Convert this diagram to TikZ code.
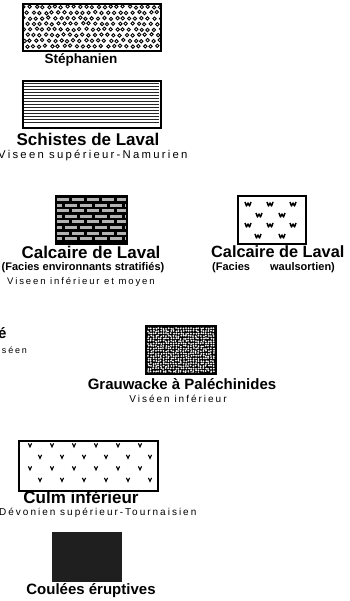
\documentclass[tikz,border=0pt]{standalone}
\usepackage{fontspec}
\setmainfont{Liberation Sans}
\newfontfamily\subfont[LetterSpace=20]{Liberation Sans}
\usetikzlibrary{positioning}

\tikzset{
  legbox/.style={draw=black,line width=2.4pt,inner sep=0pt,anchor=north west},
  ttl/.style={font=\fontsize{#1}{#1}\selectfont\bfseries,inner sep=0pt},
  sub/.style={font=\subfont\fontsize{#1}{#1}\selectfont,inner sep=0pt},
  wmark/.style={line width=1.5pt,line join=round},
  vmark/.style={line width=1.1pt}
}

\begin{document}
\begin{tikzpicture}[x=1pt,y=-1pt]
\useasboundingbox (0,0) rectangle (349,601);

% Stephanien: conglomerate
\begin{scope}
  \clip (22,3) rectangle (160,50);
  \pgfmathsetseed{4}
  \foreach \r in {0,...,7}
    \foreach \c in {0,...,22}
      \draw[line width=0.9pt] ({24+\c*6.2+mod(\r,2)*3.1+0.8*rand},{7+\r*5.6+0.7*rand}) circle (1.7);
\end{scope}
\node[legbox,minimum width=138pt,minimum height=47pt] (steph) at (22,3) {};
\node[ttl=13.5] (stephT) at (81,60) {Stéphanien};

% Schistes de Laval: shales
\foreach \k in {0,...,13}
  \draw[line width=1.3pt,black!85] (23,83.5+3*\k) -- (159,83.5+3*\k);
\node[legbox,minimum width=138pt,minimum height=47pt] (schist) at (22,80) {};
\node[ttl=17] (schistT) at (88,139) {Schistes de Laval};
\node[sub=11.3,anchor=west] (schistS) at (-2,156) {Viseen supérieur-Namurien};

% Calcaire de Laval, stratified facies
\begin{scope}
  \clip (55,195) rectangle (126,243);
  \fill[black] (55,195) rectangle (126,243);
  \foreach \r in {0,...,7}
    \foreach \c in {0,...,5}
      \fill[black!30] ({57+\c*15-mod(\r,2)*7},{198+\r*5.6}) rectangle ++(12,3);
\end{scope}
\node[legbox,minimum width=71pt,minimum height=48pt] (strat) at (55,195) {};
\node[ttl=17] (stratT) at (91,252) {Calcaire de Laval};
\node[ttl=11] (stratF) at (83,268) {(Facies environnants stratifiés)};
\node[sub=9.5,anchor=west] (stratS) at (7,282) {Viseen inférieur et moyen};

% Calcaire de Laval, waulsortian facies
\node[legbox,minimum width=68pt,minimum height=48pt] (waul) at (237,195) {};
\foreach \p in {(248,204),(270,204),(293,204),(259,215),(282,215),
                (248,225),(270,225),(293,225),(258,236),(282,236)}
  \draw[wmark] \p +(-3,-2) -- +(-1.5,2) -- +(0,-1) -- +(1.5,2) -- +(3,-2);
\node[ttl=16.3,anchor=west] (waulT) at (211,252) {Calcaire de Laval};
\node[ttl=11,anchor=west] (waulF) at (212,268) {(Facies\hspace{20pt}waulsortien)};

% cut labels at the left edge
\node[ttl=15,anchor=west] (cutT) at (-2,333) {é};
\node[sub=9,anchor=west] (cutS) at (-2,350) {iséen};

% Grauwacke
\begin{scope}
  \clip (145,325) rectangle (215,373);
  \fill[black] (145,325) rectangle (215,373);
  \pgfmathsetseed{9}
  \foreach \i in {0,...,27}
    \foreach \j in {0,...,19}
      \fill[white] ({146+\i*2.5+0.5*rand},{326+\j*2.5+0.5*rand}) circle (1.0);
\end{scope}
\node[legbox,minimum width=70pt,minimum height=48pt] (grau) at (145,325) {};
\node[ttl=15] (grauT) at (182,384) {Grauwacke à Paléchinides};
\node[sub=10] (grauS) at (178,399) {Viséen inférieur};

% Culm inferieur
\node[legbox,line width=2.2pt,minimum width=139pt,minimum height=50pt] (culm) at (18,440) {};
\foreach \r in {0,...,3}
  \foreach \c in {0,...,5}
    \draw[vmark] ({30+\c*22+mod(\r,2)*10},{445+\r*11.5}) +(-1.6,-1.6) -- +(0,1.8) -- +(1.6,-1.6);
\node[ttl=17] (culmT) at (81,497) {Culm inférieur};
\node[sub=10,anchor=west] (culmS) at (-1,513) {Dévonien supérieur-Tournaisien};

% Coulees eruptives
\node[fill=black!88,inner sep=0pt,anchor=north west,minimum width=70pt,minimum height=50pt] (coul) at (52,532) {};
\node[ttl=15] (coulT) at (91,591) {Coulées éruptives};
\end{tikzpicture}
\end{document}
